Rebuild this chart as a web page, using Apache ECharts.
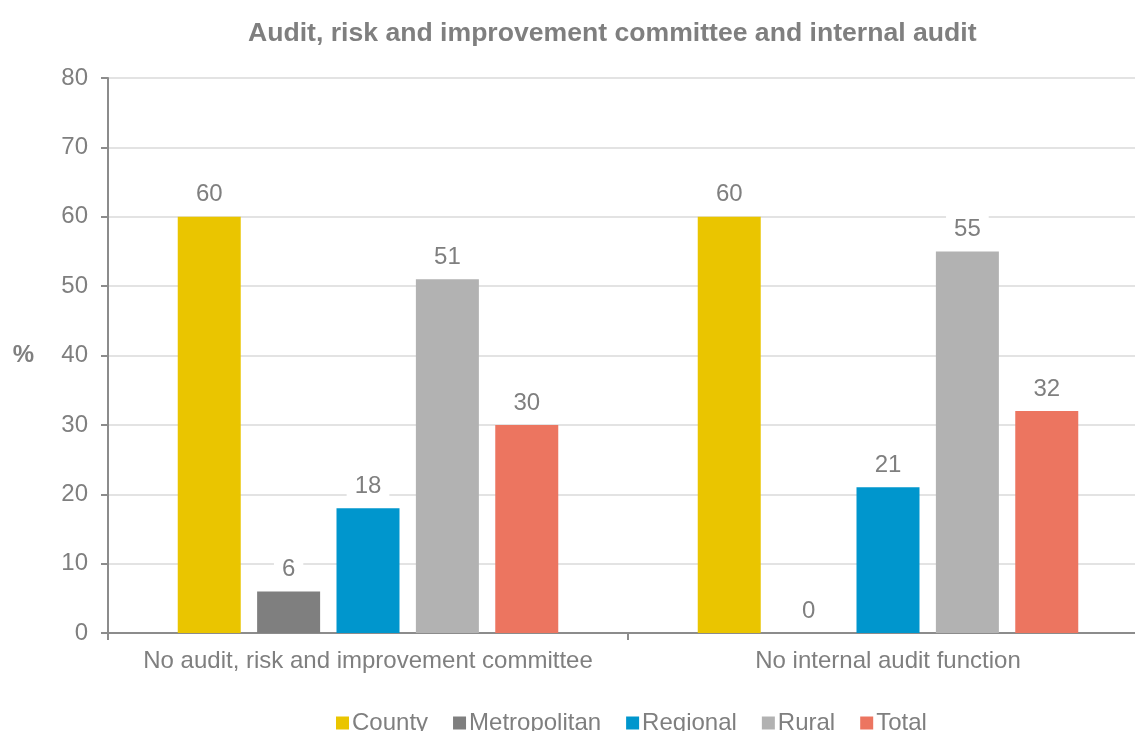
<!DOCTYPE html>
<html>
<head>
<meta charset="utf-8">
<script src="https://cdn.jsdelivr.net/npm/echarts@6/dist/echarts.min.js"></script>
<style>
  html, body { margin: 0; padding: 0; background: #fff; }
  #chart { width: 1135px; height: 731px; }
</style>
</head>
<body>
<div id="chart"></div>
<script>
// categories and series values
const categories = ['No audit, risk and improvement committee', 'No internal audit function'];
const seriesNames = ['County', 'Metropolitan', 'Regional', 'Rural', 'Total'];
const county = [60, 60];
const metropolitan = [6, 0];
const regional = [18, 21];
const rural = [51, 55];
const total = [30, 32];
const yTicks = [0, 10, 20, 30, 40, 50, 60, 70, 80];

const seriesValues = [county, metropolitan, regional, rural, total];
const colors = ['#EAC500', '#7F7F7F', '#0096CD', '#B2B2B2', '#EC7560'];
const textGrey = '#7F7F7F';
const font = 'Liberation Sans, Arial, sans-serif';

const chart = echarts.init(document.getElementById('chart'));

const option = {
    animation: false,
    color: colors,
    title: {
        text: 'Audit, risk and improvement committee and internal audit',
        left: 243,
        top: 15,
        textStyle: { fontSize: 26.6, fontWeight: 'bold', color: textGrey, fontFamily: font }
    },
    legend: {
        data: seriesNames,
        top: 706,
        left: 331,
        itemWidth: 13,
        itemHeight: 13,
        itemGap: 25,
        icon: 'rect',
        textStyle: { fontSize: 24, color: textGrey, fontFamily: font, padding: [0, 0, 0, -2] }
    },
    grid: {
        left: 108,
        right: -13,
        top: 78,
        bottom: 98,
        containLabel: false,
        outerBoundsMode: 'none'
    },
    xAxis: {
        type: 'category',
        data: categories,
        axisLine: { lineStyle: { color: '#8C8C8C', width: 2 } },
        axisTick: { show: true, length: 7, lineStyle: { color: '#8C8C8C', width: 2 } },
        axisLabel: { interval: 0, hideOverlap: false, fontSize: 24, color: textGrey, fontFamily: font, margin: 16 }
    },
    yAxis: {
        type: 'value',
        min: yTicks[0],
        max: yTicks[yTicks.length - 1],
        interval: 10,
        name: '%',
        nameLocation: 'middle',
        nameRotate: 0,
        nameGap: 74,
        nameTextStyle: { fontSize: 24, fontWeight: 'bold', color: textGrey, fontFamily: font },
        axisLine: { show: true, lineStyle: { color: '#8C8C8C', width: 2 } },
        axisTick: { show: true, length: 7, lineStyle: { color: '#8C8C8C', width: 2 } },
        axisLabel: { fontSize: 24, color: textGrey, fontFamily: font, margin: 20 },
        splitLine: { lineStyle: { color: '#E3E3E3', width: 2 } }
    },
    series: seriesNames.map((name, i) => ({
        name: name,
        type: 'bar',
        data: seriesValues[i],
        barWidth: 63,
        barGap: '26%',
        label: {
            show: true,
            position: 'top',
            distance: 7,
            fontSize: 24,
            color: textGrey,
            fontFamily: font,
            backgroundColor: '#fff',
            padding: [3, 8]
        }
    }))
};

chart.setOption(option);
</script>
</body>
</html>
